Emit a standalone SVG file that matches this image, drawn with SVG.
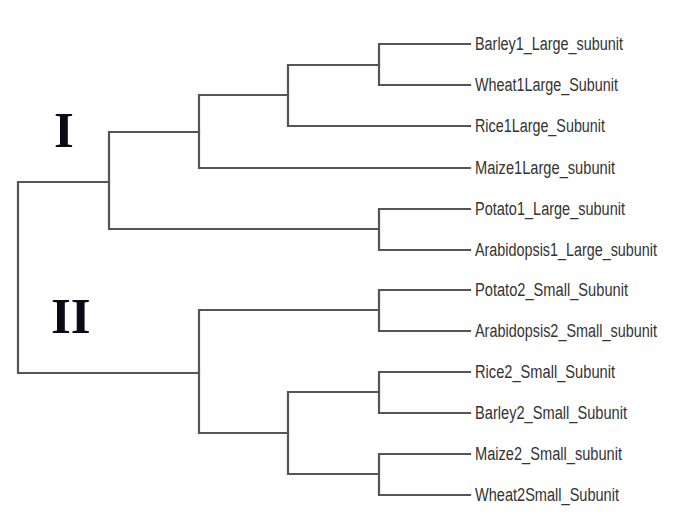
<svg xmlns="http://www.w3.org/2000/svg" width="673" height="516" viewBox="0 0 673 516">
<style>
.e{fill:none;stroke:#555;stroke-width:2.2;stroke-linecap:square}
.l{font-family:"Liberation Sans",Arial,sans-serif;font-size:18px;fill:#333}
.r{font-family:"Liberation Serif","Times New Roman",serif;font-weight:bold;font-size:51px;fill:#0b0b18}
</style>
<rect width="673" height="516" fill="#fff"/>
<g id="connectors">
<path class="e" d="M18,182V373M18,182H109M18,373H199"/>
<path class="e" d="M109,132V229M109,132H199M109,229H379"/>
<path class="e" d="M199,95V168M199,95H288M199,168H470"/>
<path class="e" d="M288,65V126M288,65H379M288,126H470"/>
<path class="e" d="M379,44V85M379,44H470M379,85H470"/>
<path class="e" d="M379,209V250M379,209H470M379,250H470"/>
<path class="e" d="M199,310V433M199,310H379M199,433H288"/>
<path class="e" d="M379,290V331M379,290H470M379,331H470"/>
<path class="e" d="M288,392V474M288,392H379M288,474H379"/>
<path class="e" d="M379,372V413M379,372H470M379,413H470"/>
<path class="e" d="M379,454V495M379,454H470M379,495H470"/>
</g>
<g id="clade-I"><text class="r" x="54" y="147">I</text></g>
<g id="clade-II"><text class="r" x="51" y="333">II</text></g>
<g id="leaf-barley1"><text class="l" x="475" y="50" textLength="148" lengthAdjust="spacingAndGlyphs">Barley1_Large_subunit</text></g>
<g id="leaf-wheat1"><text class="l" x="475" y="91" textLength="143" lengthAdjust="spacingAndGlyphs">Wheat1Large_Subunit</text></g>
<g id="leaf-rice1"><text class="l" x="475" y="132" textLength="130" lengthAdjust="spacingAndGlyphs">Rice1Large_Subunit</text></g>
<g id="leaf-maize1"><text class="l" x="475" y="174" textLength="140" lengthAdjust="spacingAndGlyphs">Maize1Large_subunit</text></g>
<g id="leaf-potato1"><text class="l" x="475" y="215" textLength="150" lengthAdjust="spacingAndGlyphs">Potato1_Large_subunit</text></g>
<g id="leaf-arabidopsis1"><text class="l" x="475" y="256" textLength="182" lengthAdjust="spacingAndGlyphs">Arabidopsis1_Large_subunit</text></g>
<g id="leaf-potato2"><text class="l" x="475" y="296" textLength="153" lengthAdjust="spacingAndGlyphs">Potato2_Small_Subunit</text></g>
<g id="leaf-arabidopsis2"><text class="l" x="475" y="337" textLength="182" lengthAdjust="spacingAndGlyphs">Arabidopsis2_Small_subunit</text></g>
<g id="leaf-rice2"><text class="l" x="475" y="378" textLength="140" lengthAdjust="spacingAndGlyphs">Rice2_Small_Subunit</text></g>
<g id="leaf-barley2"><text class="l" x="475" y="419" textLength="152" lengthAdjust="spacingAndGlyphs">Barley2_Small_Subunit</text></g>
<g id="leaf-maize2"><text class="l" x="475" y="460" textLength="147" lengthAdjust="spacingAndGlyphs">Maize2_Small_subunit</text></g>
<g id="leaf-wheat2"><text class="l" x="475" y="501" textLength="144" lengthAdjust="spacingAndGlyphs">Wheat2Small_Subunit</text></g>
</svg>
